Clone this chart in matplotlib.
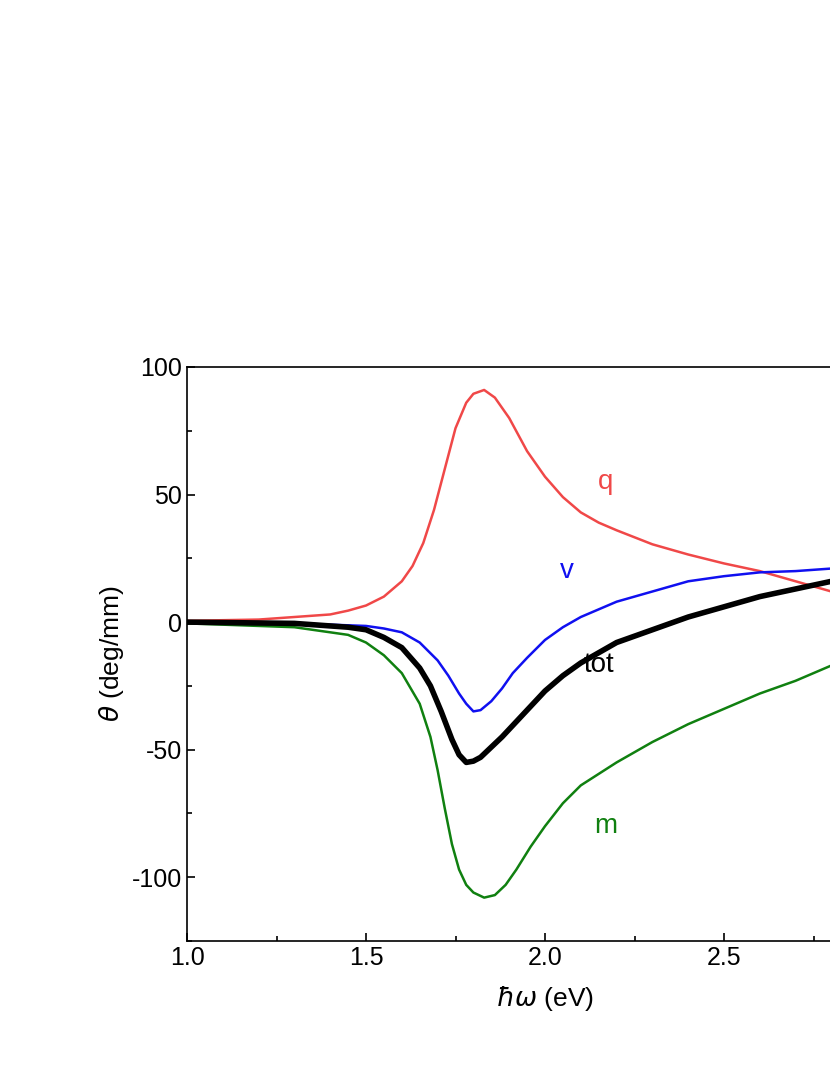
import matplotlib
matplotlib.use("Agg")
import matplotlib.pyplot as plt
from matplotlib.ticker import MultipleLocator, FixedLocator

plt.rcParams['font.family'] = 'Liberation Sans'
plt.rcParams['mathtext.fontset'] = 'dejavusans'

energy_q = [1.0, 1.2, 1.3, 1.4, 1.45, 1.5, 1.55, 1.6, 1.63, 1.66, 1.69, 1.72, 1.75, 1.78, 1.8, 1.83, 1.86, 1.9, 1.95, 2.0, 2.05, 2.1, 2.15, 2.2, 2.3, 2.4, 2.5, 2.6, 2.7, 2.8, 3.0]
theta_q = [0.5, 1, 2, 3, 4.5, 6.5, 10, 16, 22, 31, 44, 60, 76, 86, 89.5, 91, 88, 80, 67, 57, 49, 43, 39, 36, 30.5, 26.5, 23, 20, 16, 12, 5]

energy_v = [1.0, 1.3, 1.5, 1.55, 1.6, 1.65, 1.7, 1.73, 1.76, 1.78, 1.8, 1.82, 1.85, 1.88, 1.91, 1.95, 2.0, 2.05, 2.1, 2.2, 2.3, 2.4, 2.5, 2.6, 2.7, 2.8, 3.0]
theta_v = [0, -0.5, -1.5, -2.5, -4, -8, -15, -21, -28, -32, -35, -34.5, -31, -26, -20, -14, -7, -2, 2, 8, 12, 16, 18, 19.5, 20, 21, 22]

energy_tot = [1.0, 1.3, 1.45, 1.5, 1.55, 1.6, 1.65, 1.68, 1.71, 1.74, 1.76, 1.78, 1.8, 1.82, 1.85, 1.88, 1.92, 1.96, 2.0, 2.05, 2.1, 2.2, 2.3, 2.4, 2.5, 2.6, 2.7, 2.8, 3.0]
theta_tot = [0, -0.5, -2, -3, -6, -10, -18, -25, -35, -46, -52, -55, -54.5, -53, -49, -45, -39, -33, -27, -21, -16, -8, -3, 2, 6, 10, 13, 16, 20]

energy_m = [1.0, 1.3, 1.45, 1.5, 1.55, 1.6, 1.65, 1.68, 1.7, 1.72, 1.74, 1.76, 1.78, 1.8, 1.83, 1.86, 1.89, 1.92, 1.96, 2.0, 2.05, 2.1, 2.2, 2.3, 2.4, 2.5, 2.6, 2.7, 2.8, 3.0]
theta_m = [-0.5, -2, -5, -8, -13, -20, -32, -45, -58, -73, -87, -97, -103, -106, -108, -107, -103, -97, -88, -80, -71, -64, -55, -47, -40, -34, -28, -23, -17, -8]

fig = plt.figure(figsize=(8.3, 10.75), dpi=100)
ax = fig.add_axes([187/830, 134/1075, 716/830, 574/1075])
ax.plot(energy_q, theta_q, color='#f04848', lw=1.8)
ax.plot(energy_v, theta_v, color='#1010f0', lw=1.8)
ax.plot(energy_m, theta_m, color='#108010', lw=1.8)
ax.plot(energy_tot, theta_tot, color='black', lw=4, solid_joinstyle='round')

ax.text(2.17, 55, 'q', color='#f04848', fontsize=20, ha='center', va='center')
ax.text(2.06, 20, 'v', color='#1010f0', fontsize=20, ha='center', va='center')
ax.text(2.15, -17, 'tot', color='black', fontsize=20, ha='center', va='center')
ax.text(2.17, -80, 'm', color='#108010', fontsize=20, ha='center', va='center')

ax.set_xlim(1.0, 3.0)
ax.set_ylim(-125, 100)
ax.xaxis.set_major_locator(FixedLocator([1.0, 1.5, 2.0, 2.5]))
ax.xaxis.set_minor_locator(MultipleLocator(0.25))
ax.set_xticklabels(['1.0', '1.5', '2.0', '2.5'])
ax.yaxis.set_minor_locator(MultipleLocator(25))
ax.set_yticks([-100, -50, 0, 50, 100])
ax.set_yticklabels(['-100', '-50', '0', '50', '100'])
ax.tick_params(which='both', direction='in', labelsize=18)
ax.tick_params(which='major', length=6, width=1.2)
ax.tick_params(which='minor', length=3.5, width=1.2)
for s in ax.spines.values():
    s.set_linewidth(1.2)
ax.set_xlabel(r'$\hbar\omega$ (eV)', fontsize=19, labelpad=10)
ax.set_ylabel(r'$\theta$ (deg/mm)', fontsize=19, labelpad=4)
fig.savefig('out.png', dpi=100)
